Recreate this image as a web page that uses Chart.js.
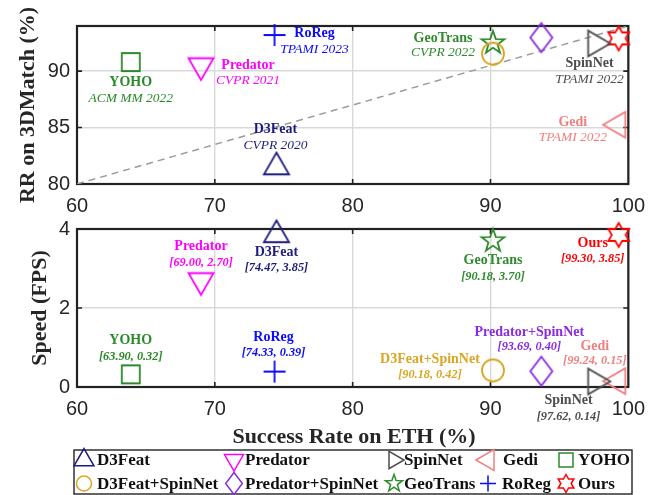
<!DOCTYPE html>
<html><head><meta charset="utf-8">
<script src="https://cdn.jsdelivr.net/npm/chart.js@4"></script>
<style>
html,body{margin:0;padding:0;background:#fff;}
#wrap{position:relative;width:655px;height:495px;overflow:hidden;}
canvas{position:absolute;left:0;top:0;}
</style>
</head><body>
<div id="wrap"><canvas id="cTop" width="655" height="495"></canvas><canvas id="cBot" width="655" height="495"></canvas></div>
<script>
// ---------------- data ----------------
const methods   = ['D3Feat','Predator','SpinNet','Gedi','YOHO','D3Feat+SpinNet','Predator+SpinNet','GeoTrans','RoReg','Ours'];
const ethSR     = [74.47, 69.00, 97.62, 99.24, 63.90, 90.18, 93.69, 90.18, 74.33, 99.30];
const rr3DMatch = [81.5, 90.5, 92.45, 85.25, 90.8, 91.55, 92.97, 92.5, 93.2, 92.9];
const speedFPS  = [3.85, 2.70, 0.14, 0.15, 0.32, 0.42, 0.40, 3.70, 0.39, 3.85];
const venues    = ['CVPR 2020','CVPR 2021','TPAMI 2022','TPAMI 2022','ACM MM 2022', '', '', 'CVPR 2022','TPAMI 2023', ''];
const xTicks    = [60, 70, 80, 90, 100];
const rrTicks   = [80, 85, 90];
const fpsTicks  = [0, 2, 4];
const trendX    = [60, 100];
const trendY    = [80, 94];

// ---------------- styles ----------------
const colors = ['#1c1c7c','#ff00ff','#4d4d4d','#f08080','#2a8a2a','#daa520','#8a2be2','#2e8b2e','#0a0aff','#ff0000'];
const shapes = ['triUp','triDown','triRight','triLeft','square','circle','diamond','pentagram','plus','hexagram'];
const markSize = [14.5, 14.5, 14.8, 14.8, 9, 11, 14.5, 12, 11, 12];
const legSize  = [11.5, 11, 10, 12, 7, 7.5, 11, 9, 8, 9];

function shapeCanvas(kind, s, color, lw){
  const c = document.createElement('canvas');
  const half = Math.ceil(s*1.1 + lw + 2);
  c.width = c.height = half*2;
  const ctx = c.getContext('2d');
  ctx.translate(half, half);
  drawShape(ctx, kind, s, color, lw);
  return c;
}
function poly(ctx, pts){ ctx.moveTo(pts[0][0], pts[0][1]); for (let i=1;i<pts.length;i++) ctx.lineTo(pts[i][0], pts[i][1]); ctx.closePath(); }
function radial(angles, rad){ return angles.map((a,i)=>{ const r = Array.isArray(rad)? rad[i%rad.length] : rad; const t=a*Math.PI/180; return [r*Math.cos(t), r*Math.sin(t)]; }); }
function drawShape(ctx, kind, s, color, lw){
  ctx.save();
  ctx.strokeStyle = color; ctx.lineWidth = lw; ctx.lineJoin = 'miter'; ctx.miterLimit = 10;
  ctx.beginPath();
  if (kind === 'triUp') poly(ctx, radial([-90,30,150], s));
  else if (kind === 'triDown') poly(ctx, radial([90,210,330], s));
  else if (kind === 'triRight') poly(ctx, radial([0,120,240], s));
  else if (kind === 'triLeft') poly(ctx, radial([180,300,60], s));
  else if (kind === 'square') { ctx.rect(-s, -s, 2*s, 2*s); }
  else if (kind === 'circle') { ctx.arc(0, 0, s, 0, Math.PI*2); }
  else if (kind === 'diamond') { const w = s*0.76; poly(ctx, [[0,-s],[w,0],[0,s],[-w,0]]); }
  else if (kind === 'plus') { ctx.moveTo(-s,0); ctx.lineTo(s,0); ctx.moveTo(0,-s); ctx.lineTo(0,s); }
  else if (kind === 'pentagram') { const a=[]; for(let i=0;i<10;i++) a.push(-90+i*36); poly(ctx, radial(a, [s, s*0.40])); }
  else if (kind === 'hexagram') { const a=[]; for(let i=0;i<12;i++) a.push(-90+i*30); poly(ctx, radial(a, [s, s*0.577])); }
  ctx.stroke();
  ctx.restore();
}

const markerImgs = methods.map((m,i)=>shapeCanvas(shapes[i], markSize[i], colors[i], 1.8));

// ---------------- label layout (pixel offsets from point) ----------------
// [index, dx, dy1, dy2]
const topLabels = [
  [4, 0, 20, 36], [1, 47, 0, 15], [0, -1, -38, -22], [8, 40, -2, 14],
  [7, -50, -5, 10], [2, -6, 20, 36], [3, -45, -2, 13]
];
const botLabels = [
  [1, 0, -34, -18], [0, 0, 17, 33], [4, 0, -34, -18], [8, -1, -34, -19],
  [7, 0, 20, 36], [9, -26, 8, 24], [6, -12, -39, -24], [3, -23, -35, -20],
  [5, -63, -11, 4], [2, -27, 19, 35]
];

const serif = '"Liberation Serif","Times New Roman",serif';
const sans  = '"Liberation Sans",Arial,sans-serif';

function frameAndTicks(chart, xt, yt){
  const {ctx, chartArea:a, scales} = chart;
  ctx.save();
  ctx.strokeStyle = '#222'; ctx.lineWidth = 1.6;
  ctx.beginPath();
  const L = 5;
  xt.forEach(v=>{ const x = scales.x.getPixelForValue(v); if (x>a.left+1 && x<a.right-1){ ctx.moveTo(x,a.bottom); ctx.lineTo(x,a.bottom-L); ctx.moveTo(x,a.top); ctx.lineTo(x,a.top+L);} });
  yt.forEach(v=>{ const y = scales.y.getPixelForValue(v); if (y>a.top+1 && y<a.bottom-1){ ctx.moveTo(a.left,y); ctx.lineTo(a.left+L,y); ctx.moveTo(a.right,y); ctx.lineTo(a.right-L,y);} });
  ctx.stroke();
  ctx.lineWidth = 2.2;
  ctx.strokeRect(a.left, a.top, a.right-a.left, a.bottom-a.top);
  ctx.restore();
}

function drawLabels(chart, specs, second){
  const {ctx, scales} = chart;
  ctx.save();
  ctx.textAlign = 'center'; ctx.textBaseline = 'middle';
  specs.forEach(([i,dx,dy1,dy2])=>{
    const yv = chart.config.data.datasets[i].data[0].y;
    const px = scales.x.getPixelForValue(ethSR[i]);
    const py = scales.y.getPixelForValue(yv);
    ctx.fillStyle = colors[i];
    ctx.font = 'bold 14px ' + serif;
    ctx.fillText(methods[i], px+dx, py+dy1);
    ctx.font = second === 'venue' ? 'italic 13.5px ' + serif : 'bold italic 12.3px ' + serif;
    const t2 = second === 'venue' ? venues[i] : '[' + ethSR[i].toFixed(2) + ', ' + speedFPS[i].toFixed(2) + ']';
    ctx.fillText(t2, px+dx, py+dy2);
  });
  ctx.restore();
}

function drawYTitle(ctx, text, x, y){
  ctx.save();
  ctx.translate(x, y); ctx.rotate(-Math.PI/2);
  ctx.font = 'bold 22px ' + serif; ctx.fillStyle = '#262626';
  ctx.textAlign = 'center'; ctx.textBaseline = 'middle';
  ctx.fillText(text, 0, 0);
  ctx.restore();
}

function drawLegend(ctx){
  ctx.save();
  ctx.strokeStyle = '#111'; ctx.lineWidth = 1.3;
  ctx.strokeRect(74, 450, 558, 44);
  const colX = [84, 234, 394, 488, 566];
  const txtX = [97, 245, 404, 503, 578];
  const rowY = [460, 483.5];
  ctx.font = 'bold 17px ' + serif; ctx.fillStyle = '#111';
  ctx.textAlign = 'left'; ctx.textBaseline = 'middle';
  methods.forEach((m,i)=>{
    const r = Math.floor(i/5), c = i%5;
    ctx.save(); ctx.translate(colX[c], rowY[r]);
    drawShape(ctx, shapes[i], legSize[i], colors[i], 1.5);
    ctx.restore();
    ctx.fillText(m, txtX[c] - (r===1 && c===3 ? 1 : 0), rowY[r]+1);
  });
  ctx.restore();
}

function makeDatasets(yArr){
  return methods.map((m,i)=>({
    label: m,
    data: [{x: ethSR[i], y: yArr[i]}],
    pointStyle: markerImgs[i],
    pointRadius: 10,
    pointHoverRadius: 10,
    clip: false,
    order: 0
  }));
}

function scaleOpts(ticksArr, min, max, axis){
  return {
    type: 'linear', min, max,
    afterBuildTicks: s => { s.ticks = ticksArr.map(v=>({value:v})); },
    afterFit: s => { if (axis==='x') s.height = 30; else s.width = 77; },
    grid: { color: '#d9d9d9', lineWidth: 1.4, drawTicks: false },
    border: { display: false },
    ticks: { font: { family: sans, size: 20 }, color: '#262626', padding: axis==='x' ? 10 : 7 }
  };
}

const common = {
  responsive: false, animation: false, events: [],
  plugins: { legend: { display: false }, tooltip: { enabled: false } }
};

const topDs = makeDatasets(rr3DMatch);
topDs.push({
  type: 'line', label: 'trend',
  data: trendX.map((x,i)=>({x, y: trendY[i]})),
  borderColor: '#9c9c9c', borderWidth: 1.5, borderDash: [7,5],
  pointRadius: 0, fill: false, order: 1
});

new Chart(document.getElementById('cTop'), {
  type: 'scatter',
  data: { datasets: topDs },
  options: Object.assign({}, common, {
    layout: { padding: { left: 0, right: 25, top: 26, bottom: 495 - 184 - 30 } },
    scales: { x: scaleOpts(xTicks, 60, 100, 'x'), y: scaleOpts(rrTicks, 80, 94, 'y') }
  }),
  plugins: [{
    id: 'topDeco',
    beforeDatasetsDraw(chart){ frameAndTicks(chart, xTicks, rrTicks); },
    afterDatasetsDraw(chart){ drawLabels(chart, topLabels, 'venue'); },
    afterDraw(chart){ drawYTitle(chart.ctx, 'RR on 3DMatch (%)', 28, 105); }
  }]
});

new Chart(document.getElementById('cBot'), {
  type: 'scatter',
  data: { datasets: makeDatasets(speedFPS) },
  options: Object.assign({}, common, {
    layout: { padding: { left: 0, right: 25, top: 229, bottom: 495 - 387 - 30 } },
    scales: { x: scaleOpts(xTicks, 60, 100, 'x'), y: scaleOpts(fpsTicks, 0, 4, 'y') }
  }),
  plugins: [{
    id: 'botDeco',
    beforeDatasetsDraw(chart){ frameAndTicks(chart, xTicks, fpsTicks); },
    afterDatasetsDraw(chart){ drawLabels(chart, botLabels, 'coords'); },
    afterDraw(chart){
      const ctx = chart.ctx;
      drawYTitle(ctx, 'Speed (FPS)', 40, 308);
      ctx.save();
      ctx.font = 'bold 22px ' + serif; ctx.fillStyle = '#262626';
      ctx.textAlign = 'center'; ctx.textBaseline = 'middle';
      ctx.fillText('Success Rate on ETH (%)', 354, 437);
      ctx.restore();
      drawLegend(ctx);
    }
  }]
});
</script>
</body></html>
